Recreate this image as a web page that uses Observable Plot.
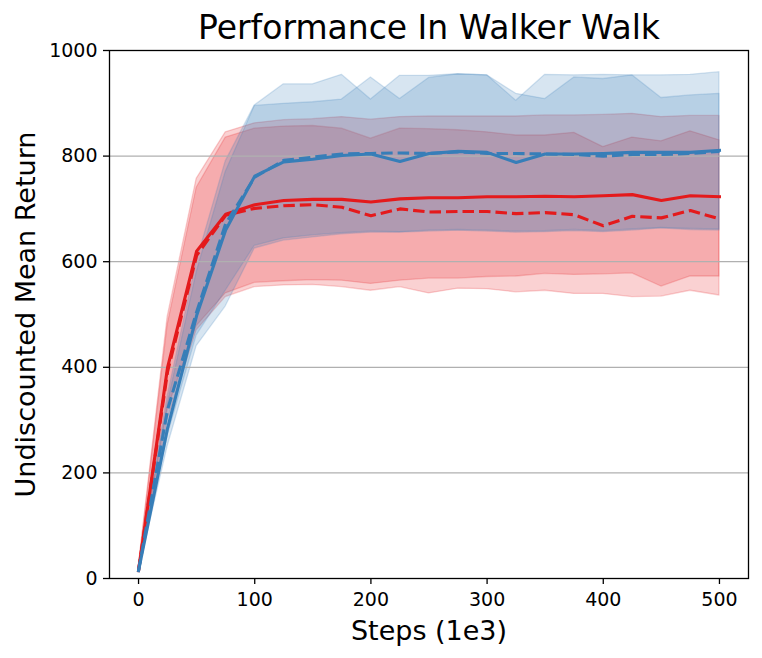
<!DOCTYPE html>
<html><head><meta charset="utf-8">
<script src="https://cdn.jsdelivr.net/npm/d3@7"></script>
<script src="https://cdn.jsdelivr.net/npm/@observablehq/plot@0.6"></script>
<style>body{margin:0;background:#fff;}</style>
</head><body><div id="chart"></div>
<script>
const steps = [0,25,50,75,100,125,150,175,200,225,250,275,300,325,350,375,400,425,450,475,500];

const redSolid   = [15,400,620,690,708,716,718,718,713,719,721,721,723,723,724,723,725,727,716,725,723];
const redDashed  = [15,392,612,688,701,706,708,703,687,700,694,695,695,691,693,689,668,686,683,697,681];
const blueSolid  = [15,285,498,660,762,789,794,801,804,790,805,809,807,788,804,804,805,807,807,807,811];
const blueDashed = [15,320,505,672,760,792,798,804,805,806,805,808,805,805,804,803,800,803,803,805,809];

const redAHigh  = [20,495,757,845,862,868,870,874,869,874,875,875,875,875,877,877,878,880,874,876,876];
const redALow   = [12,320,478,540,560,563,565,564,558,564,568,568,571,572,577,575,576,578,553,572,572];
const redBHigh  = [18,480,740,835,852,856,857,852,833,852,851,849,845,839,839,844,817,835,828,847,830];
const redBLow   = [12,300,470,533,552,555,556,552,545,552,540,549,548,542,545,539,539,533,534,545,536];
const blueAHigh = [20,345,600,790,896,936,936,954,907,952,952,955,953,905,954,953,954,953,953,954,959];
const blueALow  = [12,250,440,515,625,640,646,652,655,655,657,659,657,655,656,658,656,659,663,660,659];
const blueBHigh = [20,330,580,770,895,899,902,907,949,908,948,955,953,918,908,949,946,953,910,915,918];
const blueBLow  = [12,270,460,545,630,644,650,654,657,656,659,660,659,657,658,660,658,661,664,662,661];

const xTicks = [0,100,200,300,400,500];
const yTicks = [0,200,400,600,800,1000];
const gridTicks = [200,400,600,800];

const RED = "#e41a1c", BLUE = "#377eb8";

const band = (lo, hi) => steps.map((s, i) => ({step: s, lo: lo[i], hi: hi[i]}));
const series = (v) => steps.map((s, i) => ({step: s, v: v[i]}));

const bandMark = (lo, hi, color) => Plot.areaY(band(lo, hi), {
  x: "step", y1: "lo", y2: "hi",
  fill: color, fillOpacity: 0.2, stroke: color, strokeOpacity: 0.2, strokeWidth: 1.3,
  curve: "linear"
});
const lineMark = (v, color, dashed) => Plot.line(series(v), {
  x: "step", y: "v", stroke: color, strokeWidth: 3.1,
  strokeDasharray: dashed ? "11.5,5" : null,
  strokeLinecap: dashed ? "butt" : "square", strokeLinejoin: "round"
});

const chart = Plot.plot({
  width: 762, height: 658,
  marginLeft: 109, marginRight: 14, marginTop: 50, marginBottom: 80,
  style: {fontFamily: "DejaVu Sans", color: "black", background: "white"},
  x: {domain: [-25, 525]},
  y: {domain: [0, 1000]},
  marks: [
    bandMark(redALow, redAHigh, RED),
    bandMark(redBLow, redBHigh, RED),
    bandMark(blueALow, blueAHigh, BLUE),
    bandMark(blueBLow, blueBHigh, BLUE),
    Plot.gridY(gridTicks, {stroke: "#b0b0b0", strokeOpacity: 1, strokeWidth: 1.3}),
    lineMark(redDashed, RED, true),
    lineMark(redSolid, RED, false),
    lineMark(blueDashed, BLUE, true),
    lineMark(blueSolid, BLUE, false),
    Plot.frame({stroke: "black", strokeWidth: 1.3}),
    Plot.axisX(xTicks, {tickSize: 6, tickPadding: 8, fontSize: 19, label: null, tickFormat: d => String(d), stroke: "black", strokeWidth: 1.3, fill: "black"}),
    Plot.axisY(yTicks, {tickSize: 6, tickPadding: 6, fontSize: 19, label: null, tickFormat: d => String(d), stroke: "black", strokeWidth: 1.3, fill: "black"}),
    Plot.text(["Performance In Walker Walk"], {text: d => d, frameAnchor: "top", dy: -12, lineAnchor: "bottom", fontSize: 33, fill: "black"}),
    Plot.text(["Undiscounted Mean Return"], {text: d => d, frameAnchor: "left", dx: -75, rotate: -90, textAnchor: "middle", lineAnchor: "bottom", fontSize: 27, fill: "black"}),
    Plot.text(["Steps (1e3)"], {text: d => d, frameAnchor: "bottom", dy: 61, lineAnchor: "bottom", fontSize: 27, fill: "black"})
  ]
});
document.getElementById("chart").appendChild(chart);
</script>
</body></html>
